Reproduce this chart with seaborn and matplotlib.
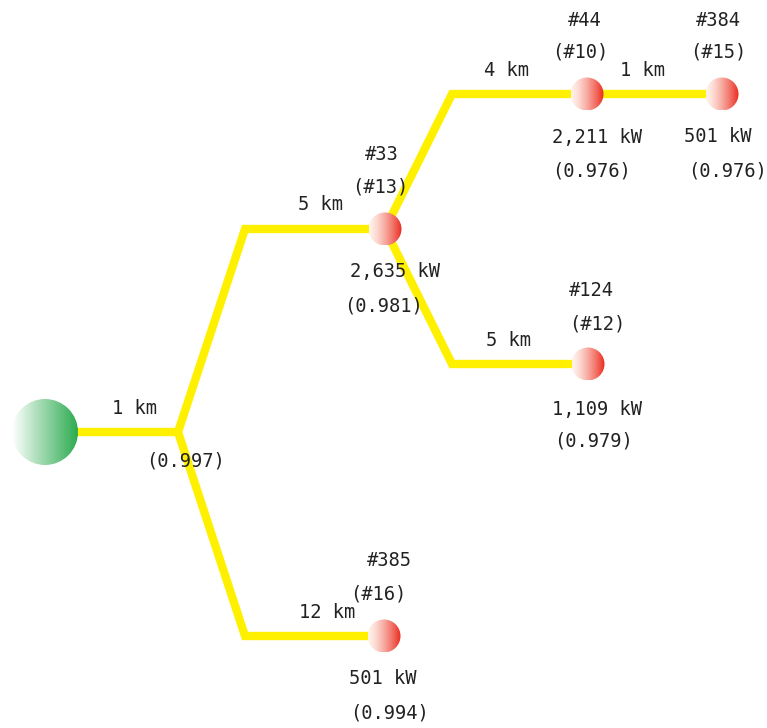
import numpy as np
import pandas as pd
import matplotlib
matplotlib.use("Agg")
import matplotlib.pyplot as plt
import seaborn as sns
from matplotlib.patches import Circle

sns.set_theme(style="white")
plt.rcParams['font.family'] = ['DejaVu Sans Mono', 'Noto Sans CJK JP']

# ---- data ----
node_ids = ["R", "J", "33", "44", "384", "124", "385"]
node_no = ["", "", "#33", "#44", "#384", "#124", "#385"]
node_idx = ["", "", "(#13)", "(#10)", "(#15)", "(#12)", "(#16)"]
node_kw = ["", "", "2,635 kW", "2,211 kW", "501 kW", "1,109 kW", "501 kW"]
node_ratio = ["", "(0.997)", "(0.981)", "(0.976)", "(0.976)", "(0.979)", "(0.994)"]
edge_parent = ["R", "J", "J", "33", "44", "33"]
edge_child = ["J", "33", "385", "44", "384", "124"]
edge_km = ["1 km", "5 km", "12 km", "4 km", "1 km", "5 km"]

# ---- layout (pixel coordinates) ----
pos = {"R": (45, 432), "J": (178, 432), "33": (385, 229), "44": (587, 94),
       "384": (722, 94), "124": (588, 364), "385": (384, 636)}
elbow_dx = 67

W, H = 767, 728
fig = plt.figure(figsize=(W / 100, H / 100), dpi=100)
ax = fig.add_axes([0, 0, 1, 1])

rows = []
for p, c in zip(edge_parent, edge_child):
    px, py = pos[p]
    cx, cy = pos[c]
    key = f"{p}-{c}"
    if py == cy:
        pts = [(px, py), (cx, cy)]
    else:
        pts = [(px, py), (px + elbow_dx, cy), (cx, cy)]
    for i, (x, y) in enumerate(pts):
        rows.append({"edge": key, "order": i, "x": x, "y": y})
df = pd.DataFrame(rows)
sns.lineplot(data=df, x="x", y="y", units="edge", estimator=None, sort=False,
             color="#FFF000", linewidth=6, ax=ax, legend=False,
             solid_joinstyle="miter", solid_capstyle="butt")


def grad_circle(cx, cy, r, c_left, c_right, gamma=1.0):
    n = 200
    g = np.linspace(0, 1, n) ** gamma
    rgb0 = np.array(c_left)
    rgb1 = np.array(c_right)
    img = rgb0[None, None, :] * (1 - g)[None, :, None] + rgb1[None, None, :] * g[None, :, None]
    img = np.repeat(img, 10, axis=0)
    im = ax.imshow(img, extent=[cx - r, cx + r, cy + r, cy - r], zorder=5,
                   interpolation="bilinear", aspect="auto")
    circ = Circle((cx, cy), r, transform=ax.transData, facecolor="none", edgecolor="none")
    ax.add_patch(circ)
    im.set_clip_path(circ)


grad_circle(*pos["R"], 33, (1.0, 1.0, 1.0), (0.17, 0.67, 0.31))
for k in ["33", "44", "384", "124", "385"]:
    grad_circle(*pos[k], 16.5, (1.0, 0.95, 0.92), (0.92, 0.17, 0.12), gamma=1.4)

ax.set_xlim(0, W)
ax.set_ylim(H, 0)
ax.set_aspect("equal")
ax.axis("off")

fs = 13.5
tc = "#222222"
def t(x, y, s):
    ax.text(x, y, s, ha="center", va="center", fontsize=fs, color=tc, zorder=6)

# node labels
lab_off = {
    "33": [(-3, -74), (-5, -42), (10, 43), (-2, 77)],
    "44": [(-2, -74), (-7, -42), (10, 43), (5, 77)],
    "384": [(-4, -74), (-4, -42), (-4, 43), (6, 77)],
    "124": [(3, -73), (9, -40), (9, 45), (5, 77)],
    "385": [(5, -75), (-6, -42), (-1, 42), (6, 77)],
}
for i, k in enumerate(node_ids):
    if k in lab_off:
        offs = lab_off[k]
        x, y = pos[k]
        for (dx, dy), s in zip(offs, [node_no[i], node_idx[i], node_kw[i], node_ratio[i]]):
            t(x + dx, y + dy, s)
jx, jy = pos["J"]
t(jx + 7, jy + 29, node_ratio[node_ids.index("J")])

# edge labels
km_off = {"R-J": (135, 408), "J-33": (320, 205), "J-385": (327, 613),
          "33-44": (507, 71), "44-384": (643, 70), "33-124": (508, 341)}
for p, c, s in zip(edge_parent, edge_child, edge_km):
    x, y = km_off[f"{p}-{c}"]
    t(x, y, s)

fig.savefig("out.png", dpi=100)
